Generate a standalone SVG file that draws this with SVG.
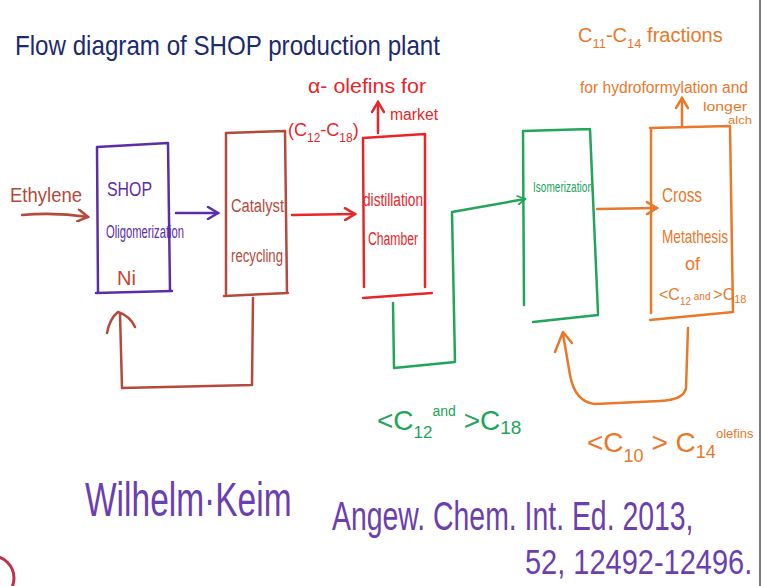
<svg xmlns="http://www.w3.org/2000/svg" width="762" height="586" viewBox="0 0 762 586">
<defs>
<style>
.t{font-family:"Liberation Sans","DejaVu Sans",sans-serif;}
.ln{fill:none;stroke-width:2.5;stroke-linecap:round;stroke-linejoin:round;}
.purple{stroke:#5a2ea6}.brown{stroke:#b34a3c}.red{stroke:#e8262a}.green{stroke:#22a45a}.orange{stroke:#e8782a}
.fp{fill:#5a2ea6}.fb{fill:#b34a3c}.fr{fill:#e8262a}.fg{fill:#22a45a}.fo{fill:#e8782a}.fn{fill:#1c2b6e}.fv{fill:#6b3fb0}
</style>
<marker id="ap" viewBox="0 0 14 14" refX="12" refY="7" markerWidth="14" markerHeight="14" markerUnits="userSpaceOnUse" orient="auto"><path d="M2,1 L12,7 L2,13" fill="none" stroke="#5a2ea6" stroke-width="2.5" stroke-linecap="round"/></marker>
<marker id="ab" viewBox="0 0 14 14" refX="12" refY="7" markerWidth="14" markerHeight="14" markerUnits="userSpaceOnUse" orient="auto"><path d="M2,1 L12,7 L2,13" fill="none" stroke="#b34a3c" stroke-width="2.5" stroke-linecap="round"/></marker>
<marker id="ar" viewBox="0 0 14 14" refX="12" refY="7" markerWidth="14" markerHeight="14" markerUnits="userSpaceOnUse" orient="auto"><path d="M2,1 L12,7 L2,13" fill="none" stroke="#e8262a" stroke-width="2.5" stroke-linecap="round"/></marker>
<marker id="ag" viewBox="0 0 14 14" refX="12" refY="7" markerWidth="10" markerHeight="10" markerUnits="userSpaceOnUse" orient="auto"><path d="M2,1 L12,7 L2,13" fill="none" stroke="#22a45a" stroke-width="2.5" stroke-linecap="round"/></marker>
<marker id="ao" viewBox="0 0 14 14" refX="12" refY="7" markerWidth="14" markerHeight="14" markerUnits="userSpaceOnUse" orient="auto"><path d="M2,1 L12,7 L2,13" fill="none" stroke="#e8782a" stroke-width="2.5" stroke-linecap="round"/></marker>
</defs>
<rect width="762" height="586" fill="#ffffff"/>
<line x1="760" y1="0" x2="760" y2="586" stroke="#7a7a7a" stroke-width="2"/>
<g id="logo"><circle cx="-8" cy="578" r="22" fill="none" stroke="#c0304a" stroke-width="3"/></g>

<g id="title"><text class="t fn" x="15" y="55" font-size="28" textLength="425" lengthAdjust="spacingAndGlyphs">Flow diagram of SHOP production plant</text></g>

<g id="ethylene"><text class="t fb" x="10" y="202" font-size="20" textLength="72" lengthAdjust="spacingAndGlyphs">Ethylene</text></g>

<g id="shop">
<path class="ln purple" d="M97,147 L168,143 M168,143 L170,290 M96,293 L172,291 M97,147 L98,292"/>
<text class="t fp" x="107" y="196" font-size="20" textLength="45" lengthAdjust="spacingAndGlyphs">SHOP</text>
<text class="t fp" x="106" y="238" font-size="18" textLength="78" lengthAdjust="spacingAndGlyphs">Oligomerization</text>
<text class="t" x="117" y="285" font-size="20" fill="#c4452e">Ni</text>
</g>

<g id="catalyst">
<path class="ln brown" d="M226,133 L285,131 M285,131 L287,293 M224,296 L288,293 M226,133 L226,294"/>
<text class="t fb" x="231" y="212" font-size="18" textLength="53" lengthAdjust="spacingAndGlyphs">Catalyst</text>
<text class="t fb" x="231" y="262" font-size="18" textLength="52" lengthAdjust="spacingAndGlyphs">recycling</text>
</g>

<g id="distillation">
<path class="ln red" d="M363,138 L425,134 M425,134 L425,287 M363,138 L364,287 M363,298 L432,293"/>
<text class="t fr" x="363" y="206" font-size="18" textLength="60" lengthAdjust="spacingAndGlyphs">distillation</text>
<text class="t fr" x="368" y="245" font-size="18" textLength="50" lengthAdjust="spacingAndGlyphs">Chamber</text>
</g>

<g id="alpha-olefins">
<text class="t fr" x="308" y="93" font-size="20" textLength="118" lengthAdjust="spacingAndGlyphs">α- olefins for</text>
<text class="t fr" x="390" y="120" font-size="16" textLength="48" lengthAdjust="spacingAndGlyphs">market</text>
<text class="t fr" x="288" y="136" font-size="18">(C<tspan font-size="12" dy="6">12</tspan><tspan dy="-6">-C</tspan><tspan font-size="12" dy="6">18</tspan><tspan dy="-6">)</tspan></text>
</g>

<g id="isomerization">
<path class="ln green" d="M523,131 L590,129 M590,129 L598,313 M523,131 L524,305 M533,322 L598,315"/>
<text class="t fg" x="533" y="192" font-size="15" textLength="60" lengthAdjust="spacingAndGlyphs">Isomerization</text>
</g>

<g id="metathesis">
<path class="ln orange" d="M650,128 L730,126 M730,126 L733,312 M651,128 L651,313 M650,320 L733,312"/>
<text class="t fo" x="662" y="202" font-size="20" textLength="40" lengthAdjust="spacingAndGlyphs">Cross</text>
<text class="t fo" x="662" y="243" font-size="18" textLength="66" lengthAdjust="spacingAndGlyphs">Metathesis</text>
<text class="t fo" x="685" y="270" font-size="18">of</text>
<text class="t fo" x="659" y="300" font-size="16">&lt;C<tspan font-size="10" dy="5">12</tspan><tspan font-size="10" dy="-5"> and </tspan>&gt;C<tspan font-size="11" dy="3">18</tspan></text>
</g>

<g id="c11-c14">
<text class="t fo" x="578" y="42" font-size="20">C<tspan font-size="13" dy="6">11</tspan><tspan dy="-6">-C</tspan><tspan font-size="13" dy="6">14</tspan><tspan dy="-6"> fractions</tspan></text>
<text class="t fo" x="580" y="93" font-size="16" textLength="168" lengthAdjust="spacingAndGlyphs">for hydroformylation and</text>
<text class="t fo" x="703" y="111" font-size="12" textLength="44" lengthAdjust="spacingAndGlyphs">longer</text>
<text class="t fo" x="728" y="124" font-size="11" textLength="24" lengthAdjust="spacingAndGlyphs">alch</text>
</g>

<g id="c12-c18-label">
<text class="t fg" x="377" y="430" font-size="28">&lt;C<tspan font-size="17" dy="8">12</tspan><tspan font-size="14" dy="-22">and</tspan><tspan dy="14"> &gt;C</tspan><tspan font-size="19" dy="4">18</tspan></text>
</g>

<g id="c10-c14-label">
<text class="t fo" x="587" y="452" font-size="28">&lt;C<tspan font-size="18" dy="10">10</tspan><tspan dy="-10"> &gt; C</tspan><tspan font-size="18" dy="6">14</tspan></text>
<text class="t fo" x="716" y="438" font-size="13">olefins</text>
</g>

<g id="reference">
<text class="t fv" transform="translate(85,516) scale(1,1.45)" x="0" y="0" font-size="33.5">Wilhelm·Keim</text>
<text class="t fv" transform="translate(332,530) scale(1,1.4)" x="0" y="0" font-size="28.4">Angew. Chem. Int. Ed. 2013,</text>
<text class="t fv" transform="translate(525,574) scale(1,1.2)" x="0" y="0" font-size="29">52, 12492-12496.</text>
</g>

<g id="connectors">
<path class="ln brown" d="M22,215 Q55,212 88,217" marker-end="url(#ab)"/>
<path class="ln purple" d="M176,213 L218,213" marker-end="url(#ap)"/>
<path class="ln brown" d="M253,298 L252,385 L122,388 L120,314 M107,333 Q110,318 118,312 Q130,316 135,327"/>
<path class="ln red" d="M292,215 L355,214" marker-end="url(#ar)"/>
<path class="ln red" d="M378,133 L378,102" marker-end="url(#ar)"/>
<path class="ln green" d="M393,303 L394,368 L455,362 L452,212 L525,199" marker-end="url(#ag)"/>
<path class="ln orange" d="M597,209 L657,208" marker-end="url(#ao)"/>
<path class="ln orange" d="M682,127 L682,98" marker-end="url(#ao)"/>
<path class="ln orange" d="M688,328 L686,388 Q684,400 660,401 L595,404 Q575,402 570,375 L563,334 M555,352 L563,332 L572,343"/>
</g>
</svg>
